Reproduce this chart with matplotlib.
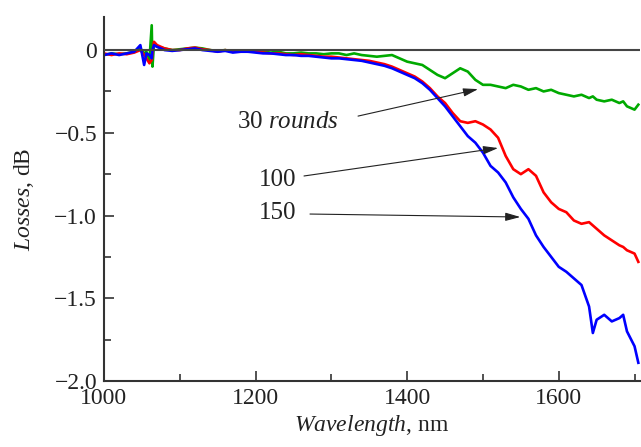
import matplotlib
matplotlib.use("Agg")
import matplotlib.pyplot as plt

plt.rcParams['font.family'] = ['Liberation Serif', 'DejaVu Serif']
plt.rcParams['mathtext.fontset'] = 'custom'
plt.rcParams['mathtext.rm'] = 'Liberation Serif'
plt.rcParams['mathtext.it'] = 'Liberation Serif:italic'

wavelength = [1000, 1010, 1020, 1030, 1040, 1048, 1053, 1056, 1060, 1063, 1064, 1066, 1070,
              1080, 1090, 1100, 1110, 1120, 1130, 1140, 1150, 1160, 1170, 1180, 1190,
              1200, 1210, 1220, 1230, 1240, 1250, 1260, 1270, 1280, 1290,
              1300, 1310, 1320, 1330, 1340, 1350, 1360, 1370, 1380, 1390,
              1400, 1410, 1420, 1430, 1440, 1450, 1460, 1470, 1480, 1490,
              1500, 1510, 1520, 1530, 1540, 1550, 1560, 1570, 1580, 1590,
              1600, 1610, 1620, 1630, 1640, 1645, 1650, 1660, 1670, 1680, 1685, 1690,
              1700, 1705]

loss_30 = [-0.03, -0.02, -0.025, -0.02, -0.01, 0.01, -0.02, -0.01, -0.06, 0.15, -0.10, 0.04, 0.02,
           0.01, 0.0, 0.005, 0.01, 0.015, 0.01, 0.0, -0.005, 0.0, -0.01, -0.005, -0.01,
           -0.005, -0.01, -0.015, -0.01, -0.02, -0.02, -0.015, -0.02, -0.02, -0.025,
           -0.02, -0.02, -0.03, -0.02, -0.03, -0.035, -0.04, -0.035, -0.03, -0.05,
           -0.07, -0.08, -0.09, -0.12, -0.15, -0.17, -0.14, -0.11, -0.13, -0.18,
           -0.21, -0.21, -0.22, -0.23, -0.21, -0.22, -0.24, -0.23, -0.25, -0.24,
           -0.26, -0.27, -0.28, -0.27, -0.29, -0.28, -0.30, -0.31, -0.30, -0.32, -0.31, -0.34,
           -0.36, -0.33]

loss_100 = [-0.02, -0.03, -0.02, -0.025, -0.015, 0.0, -0.03, -0.05, -0.08, -0.06, -0.02, 0.05, 0.03,
            0.01, 0.0, 0.0, 0.01, 0.015, 0.005, 0.0, -0.01, 0.0, -0.01, -0.01, -0.005,
            -0.01, -0.015, -0.02, -0.02, -0.025, -0.03, -0.025, -0.03, -0.035, -0.04,
            -0.04, -0.045, -0.05, -0.055, -0.06, -0.065, -0.075, -0.085, -0.10, -0.12,
            -0.14, -0.16, -0.19, -0.23, -0.28, -0.32, -0.38, -0.43, -0.44, -0.43,
            -0.45, -0.48, -0.53, -0.64, -0.72, -0.75, -0.72, -0.76, -0.86, -0.92,
            -0.96, -0.98, -1.03, -1.05, -1.04, -1.06, -1.08, -1.12, -1.15, -1.18, -1.19, -1.21,
            -1.23, -1.28]

loss_150 = [-0.03, -0.02, -0.03, -0.02, -0.01, 0.03, -0.09, -0.02, -0.03, -0.05, 0.0, 0.03, 0.02,
            0.0, -0.005, 0.0, 0.005, 0.01, 0.0, -0.005, -0.01, -0.005, -0.015, -0.01, -0.01,
            -0.015, -0.02, -0.02, -0.025, -0.03, -0.03, -0.035, -0.035, -0.04, -0.045,
            -0.05, -0.05, -0.055, -0.06, -0.065, -0.075, -0.085, -0.095, -0.11, -0.13,
            -0.15, -0.17, -0.20, -0.24, -0.29, -0.34, -0.40, -0.46, -0.52, -0.56,
            -0.62, -0.70, -0.74, -0.80, -0.89, -0.96, -1.02, -1.12, -1.19, -1.25,
            -1.31, -1.34, -1.38, -1.42, -1.55, -1.71, -1.63, -1.60, -1.64, -1.62, -1.60, -1.70,
            -1.79, -1.89]

y_ticks = [0, -0.5, -1.0, -1.5, -2.0]
y_tick_labels = ['0', '\u22120.5', '\u22121.0', '\u22121.5', '\u22122.0']
y_minor = [-0.25, -0.75, -1.25, -1.75]
x_ticks = [1000, 1200, 1400, 1600]
x_minor = [1100, 1300, 1500, 1700]

fig = plt.figure(figsize=(6.41, 4.47), dpi=100)
ax = fig.add_axes([0.1622, 0.1477, 0.836, 0.8143])

ax.plot(wavelength, loss_30, color='#00aa00', lw=1.9, zorder=2)
ax.plot(wavelength, loss_100, color='#ff0000', lw=1.9, zorder=2)
ax.plot(wavelength, loss_150, color='#0000ff', lw=1.9, zorder=2)
ax.axhline(0, color='#444444', lw=1.5, zorder=3)

ax.set_xlim(1000, 1707)
ax.set_ylim(-2.0, 0.2)
ax.set_yticks(y_ticks)
ax.set_yticklabels(y_tick_labels)
ax.set_yticks(y_minor, minor=True)
ax.set_xticks(x_ticks)
ax.set_xticklabels([str(v) for v in x_ticks])
ax.set_xticks(x_minor, minor=True)

for s in ['top', 'right']:
    ax.spines[s].set_visible(False)
for s in ['left', 'bottom']:
    ax.spines[s].set_color('#333333')
    ax.spines[s].set_linewidth(1.5)

ax.tick_params(which='major', direction='in', length=7, width=1.2, color='#333333',
               labelsize=17, labelcolor='#222222', pad=5)
ax.tick_params(which='minor', direction='in', length=5, width=1.2, color='#333333')

ax.set_xlabel('$\\mathit{Wavelength}$, nm', fontsize=17, color='#222222', labelpad=3)
ax.set_ylabel('$\\mathit{Losses}$, dB', fontsize=17, color='#222222', labelpad=13)

arrowprops = dict(arrowstyle='-|>,head_length=0.9,head_width=0.25', color='#222222', lw=0.8,
                  shrinkA=0, shrinkB=0)
ax.annotate('', xy=(1493.6, -0.236), xytext=(1335.2, -0.399), arrowprops=arrowprops)
ax.annotate('', xy=(1520.0, -0.592), xytext=(1263.9, -0.761), arrowprops=arrowprops)
ax.annotate('', xy=(1549.3, -1.009), xytext=(1271.8, -0.991), arrowprops=arrowprops)

ax.text(1175.5, -0.435, '30 $\\mathit{rounds}$', fontsize=18, color='#222222', va='center', ha='left')
ax.text(1204.5, -0.786, '100', fontsize=18, color='#222222', va='center', ha='left')
ax.text(1204.5, -0.985, '150', fontsize=18, color='#222222', va='center', ha='left')

fig.savefig('out.png', dpi=100)
